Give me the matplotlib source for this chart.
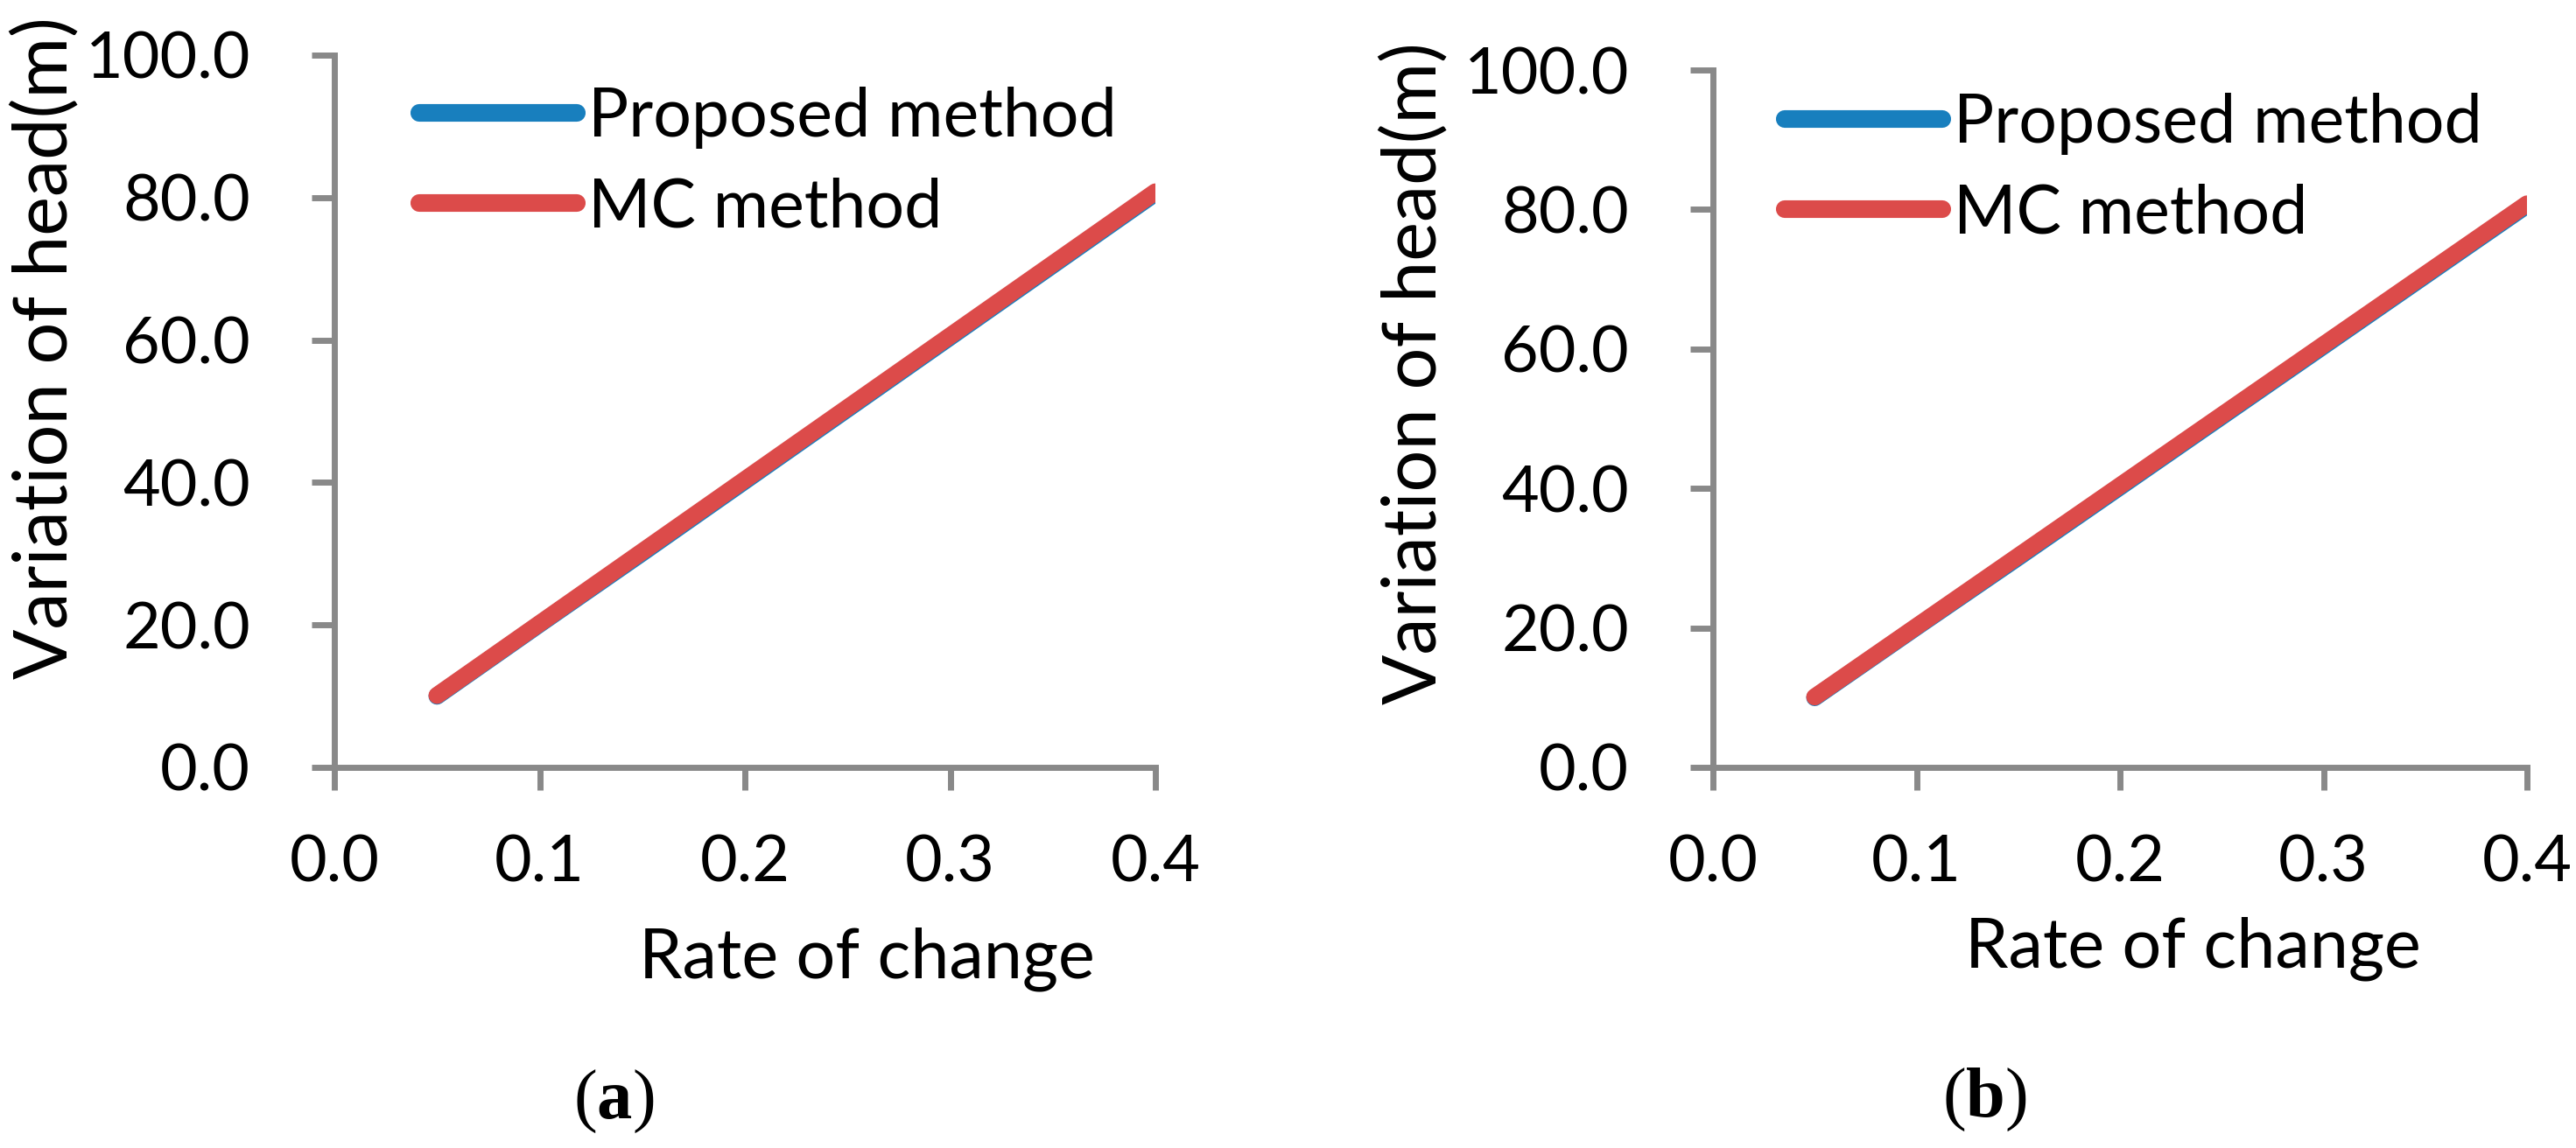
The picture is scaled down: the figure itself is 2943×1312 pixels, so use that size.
import matplotlib
matplotlib.use('Agg')
import matplotlib.pyplot as plt
from matplotlib.lines import Line2D

plt.rcParams['font.family'] = ['Lato', 'DejaVu Sans']
plt.rcParams['mathtext.fontset'] = 'custom'
plt.rcParams['mathtext.rm'] = 'Liberation Serif'
plt.rcParams['mathtext.bf'] = 'Liberation Serif:bold'

# data
rate = [0.05, 0.10, 0.15, 0.20, 0.25, 0.30, 0.35, 0.40]
proposed_a = [10.0, 20.1, 30.1, 40.2, 50.3, 60.4, 70.5, 80.6]
mc_a = [10.1, 20.2, 30.3, 40.4, 50.5, 60.6, 70.7, 80.8]
proposed_b = [10.0, 20.1, 30.1, 40.2, 50.3, 60.4, 70.5, 80.6]
mc_b = [10.1, 20.2, 30.3, 40.4, 50.5, 60.6, 70.7, 80.8]
xticks = [0.0, 0.1, 0.2, 0.3, 0.4]
yticks = [0, 20, 40, 60, 80, 100]
series_names = ['Proposed method', 'MC method']
captions = ['a', 'b']

W, H = 2943, 1312
BLUE = '#187fbe'
RED = '#dc4b4a'
GREY = '#898989'

fig = plt.figure(figsize=(W / 100, H / 100), dpi=100)


def fx(px):
    return px / W


def fy(py):
    return 1 - py / H


# panel layout in pixels: (left, right, top, bottom)
boxes = [(382, 1320, 63, 877), (1957, 2887, 80, 877)]
ylab_pos = [(76, 398), (1640, 427)]
xlab_pos = [(990, 1117), (2505, 1105)]
cap_pos = [(701, 1278), (2267, 1276)]
leg_pos = [(479, 99), (2039, 106)]
data = [(proposed_a, mc_a), (proposed_b, mc_b)]

for i in range(2):
    l, r, t, b = boxes[i]
    ax = fig.add_axes([fx(l), fy(b), fx(r - l), (b - t) / H])
    prop, mc = data[i]
    ax.plot(rate, prop, color=BLUE, lw=14, solid_capstyle='round')
    ax.plot(rate, mc, color=RED, lw=14, solid_capstyle='round')
    ax.set_xlim(0, 0.4)
    ax.set_ylim(0, 100)
    ax.set_xticks(xticks)
    ax.set_yticks(yticks)
    ax.set_xticklabels(['%.1f' % v for v in xticks])
    ax.set_yticklabels(['%.1f' % v for v in yticks])
    for s in ['top', 'right']:
        ax.spines[s].set_visible(False)
    for s in ['left', 'bottom']:
        ax.spines[s].set_color(GREY)
        ax.spines[s].set_linewidth(5)
    ax.tick_params(axis='both', direction='out', length=19, width=5,
                   color=GREY, labelsize=53, labelcolor='black')
    ax.tick_params(axis='y', pad=50)
    ax.tick_params(axis='x', pad=36)

    handles = [Line2D([], [], color=BLUE, lw=14.5, solid_capstyle='round'),
               Line2D([], [], color=RED, lw=14.5, solid_capstyle='round')]
    lx, ly = leg_pos[i]
    fig.legend(handles, series_names, loc='upper left',
               bbox_to_anchor=(fx(lx), fy(ly)), frameon=False,
               fontsize=55.5, handlelength=2.34, handletextpad=0.17,
               labelspacing=0.42, borderpad=0, borderaxespad=0)

    x, y = ylab_pos[i]
    fig.text(fx(x), fy(y), 'Variation of head(m)', rotation=90,
             rotation_mode='anchor', ha='center', va='baseline', fontsize=61)
    x, y = xlab_pos[i]
    fig.text(fx(x), fy(y), 'Rate of change', ha='center', va='baseline',
             fontsize=57)
    x, y = cap_pos[i]
    fig.text(fx(x), fy(y), r'$\mathrm{(}\mathbf{%s}\mathrm{)}$' % captions[i],
             ha='center', va='baseline', fontsize=58)

fig.savefig('out.png', dpi=100)
